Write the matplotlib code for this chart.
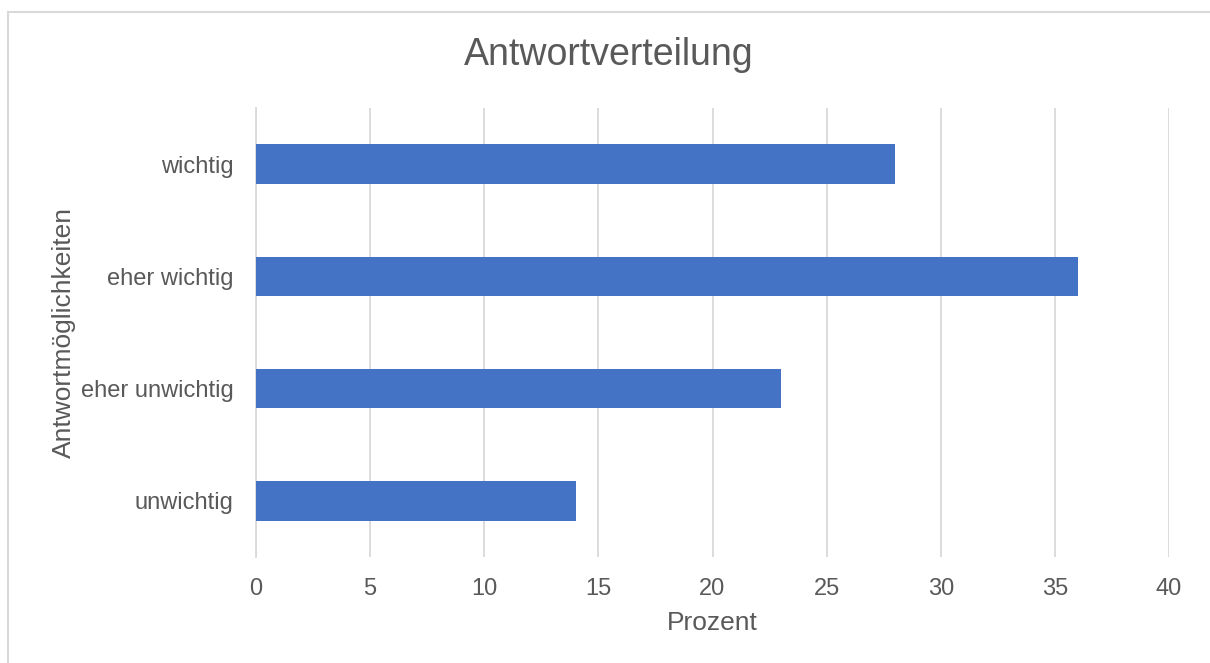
import matplotlib.pyplot as plt
from matplotlib.patches import Rectangle

# Antwortverteilung der Umfrage
kategorien = ['unwichtig', 'eher unwichtig', 'eher wichtig', 'wichtig']
prozent = [14, 23, 36, 28]
x_ticks = [0, 5, 10, 15, 20, 25, 30, 35, 40]

plt.rcParams['font.family'] = ['Liberation Sans', 'DejaVu Sans']
text_farbe = '#595959'
grid_farbe = '#d9d9d9'

fig = plt.figure(figsize=(12.1, 6.63), dpi=100)
ax = fig.add_axes([256 / 1210, 1 - 557 / 663, (1169 - 256) / 1210, (557 - 108) / 663])

ax.barh(range(len(kategorien)), prozent, height=0.35, color='#4472c4', zorder=3)

ax.set_xlim(0, 40)
ax.set_ylim(-0.5, len(kategorien) - 0.5)
ax.set_xticks(x_ticks)
ax.set_yticks(range(len(kategorien)))
ax.set_yticklabels(kategorien)
ax.xaxis.grid(True, color=grid_farbe, linewidth=1.3, zorder=0)

for s in ['top', 'right', 'bottom']:
    ax.spines[s].set_visible(False)
ax.spines['left'].set_color(grid_farbe)
ax.spines['left'].set_linewidth(1.3)

ax.tick_params(axis='both', length=0, labelsize=17, labelcolor=text_farbe)
ax.tick_params(axis='x', pad=15)
ax.tick_params(axis='y', pad=16)

ax.set_xlabel('Prozent', fontsize=19, color=text_farbe, labelpad=8)
ax.set_ylabel('Antwortmöglichkeiten', fontsize=19, color=text_farbe, labelpad=4)
fig.text(609 / 1210, 1 - 55 / 663, 'Antwortverteilung', fontsize=27, color=text_farbe,
         ha='center', va='center')

# Rahmen um das Diagramm
fig.patches.append(Rectangle((8 / 1210, -0.01), 1.02, 1 - 12 / 663 + 0.01,
                             transform=fig.transFigure, fill=False,
                             edgecolor=grid_farbe, linewidth=1.5))

fig.savefig('out.png', dpi=100)
